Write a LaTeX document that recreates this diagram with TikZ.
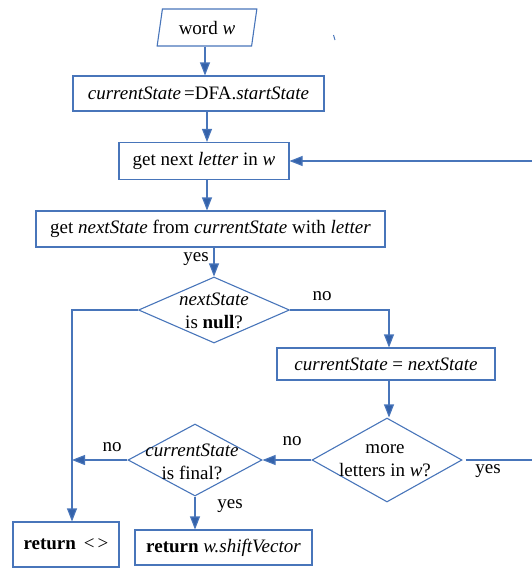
\documentclass[tikz,border=0pt]{standalone}
\usepackage{fontspec}
\setmainfont{Liberation Serif}
\usetikzlibrary{shapes.geometric,arrows.meta}
\definecolor{lc}{RGB}{72,117,186}
\definecolor{ac}{RGB}{52,98,170}
\begin{document}
\begin{tikzpicture}[x=1pt,y=-1pt,
  line/.style={draw=lc,line width=1.1pt},
  arr/.style={line,-{Triangle[length=13pt,width=10pt,fill=ac]}},
  fnt/.style={font=\fontsize{19}{23}\selectfont},
  box/.style={line,rectangle,inner sep=0pt,fnt},
  dia/.style={line,diamond,inner sep=0pt},
  txt/.style={inner sep=0pt,fnt,align=center},
  lbl/.style={inner sep=0pt,fnt},
]
\useasboundingbox (0,0) rectangle (532,568);

\node[line,trapezium,trapezium left angle=76,trapezium right angle=104,
  trapezium stretches=true,minimum width=100pt,minimum height=37pt,inner sep=0pt,fnt]
  (w) at (207,27.5) {word \textit{w}};
\node[box,minimum width=251pt,minimum height=35pt] (b2) at (198.5,93.5)
  {\textit{currentState}\,=DFA.\textit{startState}};
\node[box,minimum width=170pt,minimum height=37pt] (b3) at (204,161)
  {get next \textit{letter} in \textit{w}};
\node[box,minimum width=349pt,minimum height=36pt] (b4) at (210.5,229)
  {get \textit{nextState} from \textit{currentState} with \textit{letter}};
\node[dia,minimum width=151pt,minimum height=66pt] (d1) at (214,310) {};
\node[txt] (t1) at (214,311) {\textit{nextState}\\is \textbf{null}?};
\node[box,minimum width=218pt,minimum height=32pt] (b5) at (386,364)
  {\textit{currentState} = \textit{nextState}};
\node[dia,minimum width=150pt,minimum height=84pt] (d2) at (387,460) {};
\node[txt] (t2) at (385,461) {more\\letters in \textit{w}?};
\node[dia,minimum width=134pt,minimum height=72pt] (d3) at (195,460) {};
\node[txt] (t3) at (192,462) {\textit{currentState}\\is final?};
\node[box,minimum width=106pt,minimum height=45pt] (r1) at (66,544.5)
  {\textbf{return} \,<\,>};
\node[box,minimum width=177pt,minimum height=35pt] (r2) at (223.5,547.5)
  {\textbf{return} \textit{w.shiftVector}};

\coordinate (vx) at (72,0);
\coordinate (rx) at (536,0);

\draw[arr] (w.south -| 205,0) -- (205,0 |- b2.north);
\draw[arr] (207,0 |- b2.south) -- (207,0 |- b3.north);
\draw[arr] (207,0 |- b3.south) -- (207,0 |- b4.north);
\draw[arr] (214,0 |- b4.south) -- (d1.north);
\draw[arr] (d1.east) -| (389,0 |- b5.north);
\draw[arr] (389,0 |- b5.south) -- (389,0 |- d2.north);
\draw[arr] (d1.west) -| (vx |- r1.north);
\draw[arr] (d2.west) -- (d3.east);
\draw[arr] (d3.west) -- (d3.west -| vx);
\draw[arr] (d3.south) -- (d3.south |- r2.north);
\draw[arr] ([xshift=3pt]d2.east) -- (d2.east -| rx) -- (rx |- b3.east) -- (b3.east);

\node[lbl] at (196,259) {yes};
\node[lbl] at (322,296) {no};
\node[lbl] at (292,441) {no};
\node[lbl] at (488,471) {yes};
\node[lbl] at (112,447) {no};
\node[lbl] at (230,506) {yes};

\draw[lc,line width=1pt] (333.5,35) -- (335,40);
\end{tikzpicture}
\end{document}
